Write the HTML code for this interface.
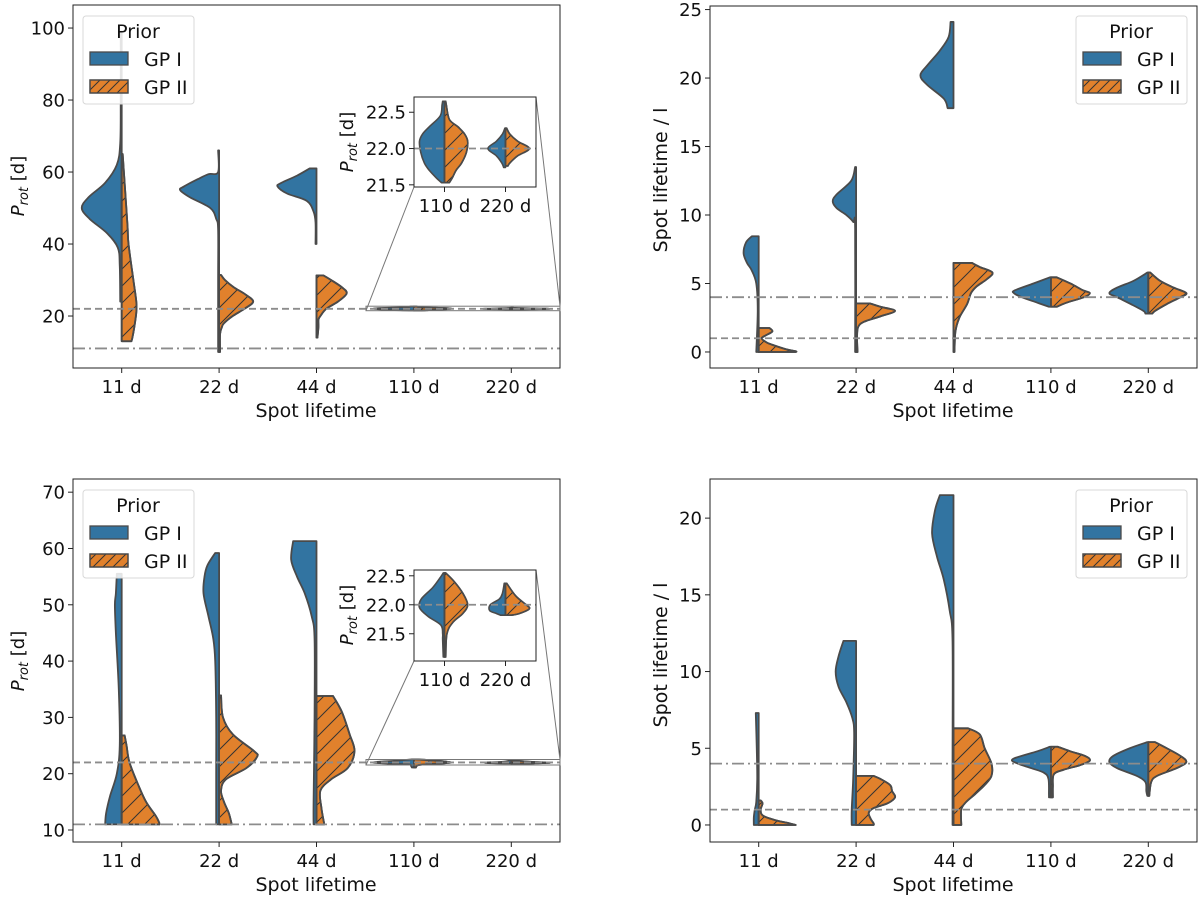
<!DOCTYPE html>
<html><head><meta charset="utf-8"><style>
html,body{margin:0;padding:0;background:#fff;}
svg{display:block;font-family:"DejaVu Sans","Liberation Sans",sans-serif;}
</style></head><body>
<svg id="fig" width="1200" height="897" viewBox="0 0 1200 897" xmlns="http://www.w3.org/2000/svg">
<defs>
<pattern id="hatch" patternUnits="userSpaceOnUse" width="17" height="17">
<path d="M-2,2 L2,-2 M0,17 L17,0 M15,19 L19,15" stroke="#333" stroke-width="1"/>
</pattern>
<pattern id="hatchL" patternUnits="userSpaceOnUse" width="10" height="10">
<path d="M-2,2 L2,-2 M0,10 L10,0 M8,12 L12,8" stroke="#333" stroke-width="1"/>
</pattern>
</defs>
</svg>
<script>
const categories = ["11 d","22 d","44 d","110 d","220 d"];
const insetCategories = ["110 d","220 d"];
const priors = ["GP I","GP II"];

// ---- top-left inset (P_rot zoom) ----
const tlInsetGP1Values = [[22.65,22.6,22.45,22.3,22.2,22.1,21.95,21.8,21.7,21.6,21.53],[22.28,22.2,22.1,22.0,21.9,21.8,21.74]];
const tlInsetGP1Widths = [[0.03,0.04,0.07,0.25,0.36,0.41,0.39,0.33,0.25,0.14,0.05],[0.01,0.05,0.15,0.29,0.15,0.06,0.03]];
const tlInsetGP2Values = [[22.65,22.6,22.4,22.3,22.2,22.1,21.95,21.8,21.7,21.6,21.53],[22.28,22.2,22.1,22.0,21.9,21.8,21.76]];
const tlInsetGP2Widths = [[0.02,0.03,0.08,0.22,0.33,0.38,0.36,0.28,0.19,0.13,0.08],[0.02,0.07,0.2,0.39,0.2,0.07,0.04]];
// ---- top-left main (P_rot) ----
const tlGP1Values = [[99,80,68,62,57,53,50,47,43,39,34,24],[66,60,59.4,58,56,55,53,50,47,44,30,10],[61,59,57,56,54,52,49,46,40],tlInsetGP1Values[0],tlInsetGP1Values[1]];
const tlGP1Widths = [[0.01,0.01,0.015,0.05,0.17,0.34,0.41,0.33,0.15,0.04,0.02,0.015],[0.01,0.01,0.11,0.22,0.36,0.4,0.3,0.09,0.03,0.01,0.01,0.01],[0.07,0.2,0.36,0.4,0.3,0.1,0.03,0.01,0.01],tlInsetGP1Widths[0],tlInsetGP1Widths[1]];
const tlGP2Values = [[65,55,45,40,30,24,21,17,14,13],[31.4,30,28,26,24,22,20,18,17,15,10],[31.3,30,28,26.3,24,22,20,19,17,14],tlInsetGP2Values[0],tlInsetGP2Values[1]];
const tlGP2Widths = [[0.01,0.035,0.06,0.07,0.12,0.15,0.15,0.13,0.11,0.1],[0.02,0.06,0.15,0.27,0.35,0.26,0.14,0.05,0.03,0.01,0.01],[0.07,0.15,0.26,0.31,0.22,0.1,0.04,0.02,0.02,0.01],tlInsetGP2Widths[0],tlInsetGP2Widths[1]];
const tlTicks = [20,40,60,80,100];
const tlRefLines = [22,11];

// ---- top-right (spot lifetime / l) ----
const trGP1Values = [[8.45,8,7.2,6.5,6,5,3,0],[13.5,12.5,11.5,11,10.5,10,9.5,9,0],[24.1,23,22,21,20.2,19.5,18.5,17.8],[5.45,5,4.5,4.3,4.0,3.6,3.3],[5.8,5.2,4.7,4.3,4.0,3.5,3.0,2.8]];
const trGP1Widths = [[0.07,0.13,0.155,0.12,0.075,0.025,0.01,0.025],[0.01,0.05,0.2,0.24,0.2,0.1,0.03,0.01,0.01],[0.03,0.05,0.14,0.26,0.34,0.27,0.1,0.06],[0.01,0.18,0.37,0.38,0.3,0.14,0.02],[0.01,0.15,0.32,0.4,0.32,0.18,0.05,0.03]];
const trGP2Values = [[1.75,1.5,1.2,1.0,0.7,0.5,0.2,0.05,0],[3.55,3.3,3.0,2.6,2.2,1.8,1,0],[6.5,6.2,5.8,5.3,4.8,4.3,3.5,2.5,1.5,0],[5.45,5,4.5,4.3,4,3.6,3.3],[5.8,5.2,4.7,4.3,4,3.5,3,2.8]];
const trGP2Widths = [[0.11,0.14,0.07,0.03,0.08,0.15,0.28,0.38,0.38],[0.14,0.25,0.4,0.25,0.08,0.02,0.01,0.015],[0.19,0.27,0.4,0.34,0.24,0.18,0.14,0.06,0.02,0.01],[0.06,0.2,0.33,0.4,0.34,0.16,0.06],[0.02,0.12,0.26,0.39,0.33,0.19,0.07,0.04]];
const trTicks = [0,5,10,15,20,25];
const trRefLines = [4,1];

// ---- bottom-left inset ----
const blInsetGP1Values = [[22.55,22.5,22.3,22.1,21.95,21.8,21.65,21.5,21.4,21.1],[22.37,22.2,22.1,22.0,21.9,21.85,21.82]];
const blInsetGP1Widths = [[0.02,0.05,0.19,0.38,0.41,0.27,0.06,0.03,0.03,0.02],[0.02,0.05,0.1,0.25,0.26,0.15,0.08]];
const blInsetGP2Values = [[22.55,22.4,22.2,22.0,21.85,21.7,21.5,21.1],[22.37,22.15,22.0,21.93,21.85,21.82]];
const blInsetGP2Widths = [[0.02,0.16,0.3,0.38,0.3,0.14,0.04,0.02],[0.02,0.17,0.34,0.39,0.23,0.1]];
// ---- bottom-left main ----
const blGP1Values = [[55.5,52,50,45,35,25,20,16,13,11],[59.2,57,55,52,48,44,40,30,20,11],[61.3,58,55,52,48,44,30,15,11],blInsetGP1Values[0],blInsetGP1Values[1]];
const blGP1Widths = [[0.05,0.06,0.07,0.06,0.03,0.02,0.05,0.12,0.16,0.17],[0.04,0.12,0.15,0.16,0.11,0.06,0.04,0.03,0.03,0.03],[0.24,0.26,0.2,0.12,0.05,0.02,0.02,0.03,0.03],blInsetGP1Widths[0],blInsetGP1Widths[1]];
const blGP2Values = [[26.8,25,22,18,15,12.5,11.5,11],[33.9,30,27,24,23,21,19,17,15,13,11],[33.8,31,27,24,21,19,17,14,11],blInsetGP2Values[0],blInsetGP2Values[1]];
const blGP2Widths = [[0.03,0.05,0.08,0.17,0.25,0.35,0.38,0.39],[0.02,0.04,0.14,0.36,0.39,0.28,0.07,0.02,0.05,0.1,0.13],[0.17,0.26,0.34,0.39,0.32,0.15,0.04,0.05,0.08],blInsetGP2Widths[0],blInsetGP2Widths[1]];
const blTicks = [10,20,30,40,50,60,70];
const blRefLines = [22,11];

// ---- bottom-right ----
const brGP1Values = [[7.3,5,3,1.5,1,0.5,0],[12,11,10,9,8,7,6,3,1,0],[21.5,20.5,19,17.5,16,14,12,4,0],[5.1,4.8,4.3,4.0,3.7,3.4,3.0,2.0,1.8],[5.4,5.0,4.5,4.1,3.7,3.2,2.8,2.2,1.9]];
const brGP1Widths = [[0.03,0.02,0.015,0.025,0.04,0.05,0.05],[0.13,0.18,0.21,0.18,0.1,0.04,0.02,0.03,0.045,0.045],[0.14,0.19,0.22,0.17,0.1,0.04,0.01,0.01,0.01],[0.01,0.14,0.39,0.34,0.2,0.07,0.025,0.02,0.02],[0.01,0.19,0.36,0.4,0.32,0.12,0.03,0.02,0.01]];
const brGP2Values = [[1.6,1.4,1.0,0.6,0.3,0.1,0],[3.2,3.0,2.6,2.2,1.8,1.4,1.1,0.8,0.4,0.1,0],[6.3,5.9,5,4,3.2,2.6,2,1.5,1,0],[5.1,4.8,4.5,4.2,3.9,3.6,3.3,2.5,1.8],[5.4,5.0,4.5,4.1,3.7,3.2,2.8,1.9]];
const brGP2Widths = [[0.02,0.04,0.02,0.045,0.18,0.32,0.38],[0.18,0.25,0.35,0.37,0.4,0.32,0.18,0.13,0.15,0.18,0.18],[0.15,0.27,0.32,0.39,0.39,0.32,0.22,0.13,0.08,0.08],[0.07,0.2,0.35,0.4,0.3,0.13,0.03,0.02,0.02],[0.07,0.19,0.33,0.39,0.29,0.09,0.03,0.01]];
const brTicks = [0,5,10,15,20];
const brRefLines = [4,1];

const NS = "http://www.w3.org/2000/svg";
const svg = document.getElementById('fig');
const BLUE = "#3274a1", ORANGE = "#e1812c", EDGE = "#4a4a4a";

function mk(tag, attrs, parent){
  const e = document.createElementNS(NS, tag);
  for (const k in attrs) e.setAttribute(k, attrs[k]);
  (parent||svg).appendChild(e);
  return e;
}
function smooth(pts){
  let d = "";
  for (let i=0;i<pts.length-1;i++){
    const p0=pts[Math.max(0,i-1)], p1=pts[i], p2=pts[i+1], p3=pts[Math.min(pts.length-1,i+2)];
    const c1=[p1[0]+(p2[0]-p0[0])/6, p1[1]+(p2[1]-p0[1])/6];
    const c2=[p2[0]-(p3[0]-p1[0])/6, p2[1]-(p3[1]-p1[1])/6];
    d += ` C${c1[0].toFixed(2)},${c1[1].toFixed(2)} ${c2[0].toFixed(2)},${c2[1].toFixed(2)} ${p2[0].toFixed(2)},${p2[1].toFixed(2)}`;
  }
  return d;
}

function drawAxes(cfg){
  const g = mk('g', {});
  
  
  const {left,right,top,bottom,ymin,ymax} = cfg;
  const n = cfg.cats.length, cw = (right-left)/n;
  const xScale = i => left + (i+0.5)*cw;
  const yScale = v => bottom - (v-ymin)/(ymax-ymin)*(bottom-top);
  const clipId = cfg.name + '-clip';
  const cp = mk('clipPath', {id: clipId}, g);
  mk('rect', {x:left,y:top,width:right-left,height:bottom-top}, cp);
  const vg = mk('g', {'clip-path':`url(#${clipId})`}, g);
  
  
  const series = [[cfg.g1v,cfg.g1w,-1,BLUE,'gp1'],[cfg.g2v,cfg.g2w,1,ORANGE,'gp2']];
  series.forEach(([vals,wids,side,col,key])=>{
    vals.forEach((vs,i)=>{
      if(!vs) return;
      const x0 = xScale(i);
      const pts = vs.map((v,j)=>[x0 + side*wids[i][j]*cw, yScale(v)]);
      const d = `M${x0},${yScale(vs[0])} L${pts[0][0]},${pts[0][1]}` + smooth(pts) + ` L${x0},${yScale(vs[vs.length-1])} Z`;
      const p = mk('path', {d, fill:col, stroke:EDGE, 'stroke-width':cfg.inset?1.6:1.8, 'stroke-linejoin':'round'}, vg);
      
      
      if(side>0){
        const h = mk('path', {d, fill:'url(#hatch)', stroke:'none'}, vg);
        
        
        mk('path', {d, fill:'none', stroke:EDGE, 'stroke-width':cfg.inset?1.6:1.8, 'stroke-linejoin':'round'}, vg);
      }
    });
  });
  cfg.refs.forEach((r,k)=>{
    const y = yScale(r.v);
    const l = mk('line', {x1:left,x2:right,y1:y,y2:y,stroke:'#8c8c8c','stroke-width':1.8,'stroke-dasharray':r.dash}, g);
    
    
  });
  const fr = mk('rect', {x:left,y:top,width:right-left,height:bottom-top,fill:'none',stroke:'#222','stroke-width':1}, g);
  
  
  cfg.ticks.forEach(t=>{
    const y = yScale(t);
    mk('line', {x1:left-5,x2:left,y1:y,y2:y,stroke:'#222','stroke-width':1}, g);
    const tx = mk('text', {x:left-8,y:y+6.5,'text-anchor':'end','font-size':18,fill:'#111'}, g);
    tx.textContent = cfg.fmt(t);
    
    
  });
  cfg.cats.forEach((c,i)=>{
    const x = xScale(i);
    mk('line', {x1:x,x2:x,y1:bottom,y2:bottom+5,stroke:'#222','stroke-width':1}, g);
    const tx = mk('text', {x:x,y:bottom+25,'text-anchor':'middle','font-size':18,fill:'#111'}, g);
    tx.textContent = c;
    
    
  });
  return {xScale,yScale,cw};
}

function ylabelProt(x, y, g){
  const t = mk('text', {x:0,y:0,transform:`translate(${x},${y}) rotate(-90)`,'text-anchor':'middle','font-size':18,fill:'#111'}, g);
  
  
  t.innerHTML = '<tspan font-style="italic">P</tspan><tspan font-style="italic" font-size="13" dy="4">rot</tspan><tspan dy="-4"> [d]</tspan>';
}
function textAt(x,y,s,name,rot){
  const t = mk('text', {x:0,y:0,transform:`translate(${x},${y})`+(rot?' rotate(-90)':''),'text-anchor':'middle','font-size':19,fill:'#111'});
  t.textContent = s;
  
  
}
function legend(x,y){
  const g = mk('g', {});
  
  
  mk('rect', {x:x,y:y,width:111,height:88,rx:3,fill:'#fff','fill-opacity':0.85,stroke:'#d8d8d8','stroke-width':1}, g);
  const t = mk('text', {x:x+55,y:y+22,'text-anchor':'middle','font-size':19,fill:'#111'}, g);
  t.textContent = 'Prior';
  
  
  priors.forEach((p,i)=>{
    const py = y+36+i*28;
    const r = mk('rect', {x:x+7,y:py,width:38,height:13,fill:i?ORANGE:BLUE,stroke:EDGE,'stroke-width':1.3}, g);
    
    
    if(i) mk('rect', {x:x+7,y:py,width:38,height:13,fill:'url(#hatchL)',stroke:EDGE,'stroke-width':1.3}, g);
    const tx = mk('text', {x:x+61,y:py+14,'font-size':19,fill:'#111'}, g);
    tx.textContent = p;
    
    
  });
}
const fmt0 = v=>String(v), fmt1 = v=>v.toFixed(1);
const DASH = '7,4', DASHDOT = '12,4,2,4';

drawAxes({name:'top-left-axes',left:73,right:560,top:5,bottom:368,ymin:5.56,ymax:106.4,cats:categories,ticks:tlTicks,fmt:fmt0,
  g1v:tlGP1Values,g1w:tlGP1Widths,g2v:tlGP2Values,g2w:tlGP2Widths,refs:[{v:tlRefLines[0],dash:DASH},{v:tlRefLines[1],dash:DASHDOT}]});
drawAxes({name:'top-right-axes',left:710,right:1197,top:6,bottom:368,ymin:-1.17,ymax:25.26,cats:categories,ticks:trTicks,fmt:fmt0,
  g1v:trGP1Values,g1w:trGP1Widths,g2v:trGP2Values,g2w:trGP2Widths,refs:[{v:trRefLines[0],dash:DASHDOT},{v:trRefLines[1],dash:DASH}]});
drawAxes({name:'bottom-left-axes',left:73,right:560,top:479,bottom:842,ymin:7.87,ymax:72.34,cats:categories,ticks:blTicks,fmt:fmt0,
  g1v:blGP1Values,g1w:blGP1Widths,g2v:blGP2Values,g2w:blGP2Widths,refs:[{v:blRefLines[0],dash:DASH},{v:blRefLines[1],dash:DASHDOT}]});
drawAxes({name:'bottom-right-axes',left:710,right:1197,top:479,bottom:842,ymin:-1.11,ymax:22.55,cats:categories,ticks:brTicks,fmt:fmt0,
  g1v:brGP1Values,g1w:brGP1Widths,g2v:brGP2Values,g2w:brGP2Widths,refs:[{v:brRefLines[0],dash:DASHDOT},{v:brRefLines[1],dash:DASH}]});

function insetBox(mainTopY, mainBotY, ib){
  const g = mk('g', {});
  
  
  mk('rect', {x:366,y:mainTopY,width:194,height:mainBotY-mainTopY,fill:'none',stroke:'#777','stroke-width':1}, g);
  mk('line', {x1:ib.left,y1:ib.bottom,x2:366,y2:mainBotY,stroke:'#777','stroke-width':1}, g);
  mk('line', {x1:ib.right,y1:ib.top,x2:560,y2:mainTopY,stroke:'#777','stroke-width':1}, g);
}
const tlIn = {left:414,right:536,top:97,bottom:187};
insetBox(306.2, 310.7, tlIn);
mk('rect',{x:414,y:97,width:122,height:90,fill:'#fff'});
drawAxes({name:'top-left-inset',inset:true,left:414,right:536,top:97,bottom:187,ymin:21.47,ymax:22.71,cats:insetCategories,ticks:[21.5,22.0,22.5],fmt:fmt1,
  g1v:tlInsetGP1Values,g1w:tlInsetGP1Widths,g2v:tlInsetGP2Values,g2w:tlInsetGP2Widths,refs:[{v:22,dash:DASH}]});
const blIn = {left:414,right:536,top:570,bottom:661};
insetBox(759.5, 765, blIn);
mk('rect',{x:414,y:570,width:122,height:91,fill:'#fff'});
drawAxes({name:'bottom-left-inset',inset:true,left:414,right:536,top:570,bottom:661,ymin:21.03,ymax:22.6,cats:insetCategories,ticks:[21.5,22.0,22.5],fmt:fmt1,
  g1v:blInsetGP1Values,g1w:blInsetGP1Widths,g2v:blInsetGP2Values,g2w:blInsetGP2Widths,refs:[{v:22,dash:DASH}]});

ylabelProt(24,186,svg);
ylabelProt(24,661,svg);
ylabelProt(353,142,svg);
ylabelProt(353,615,svg);
textAt(667,180,'Spot lifetime / l','y-axis-title',true);
textAt(667,655,'Spot lifetime / l','y-axis-title',true);
textAt(316,417,'Spot lifetime','x-axis-title');
textAt(953,417,'Spot lifetime','x-axis-title');
textAt(316,891,'Spot lifetime','x-axis-title');
textAt(953,891,'Spot lifetime','x-axis-title');

legend(83,16);
legend(1076,16);
legend(83,490);
legend(1076,490);
</script>
</body></html>
